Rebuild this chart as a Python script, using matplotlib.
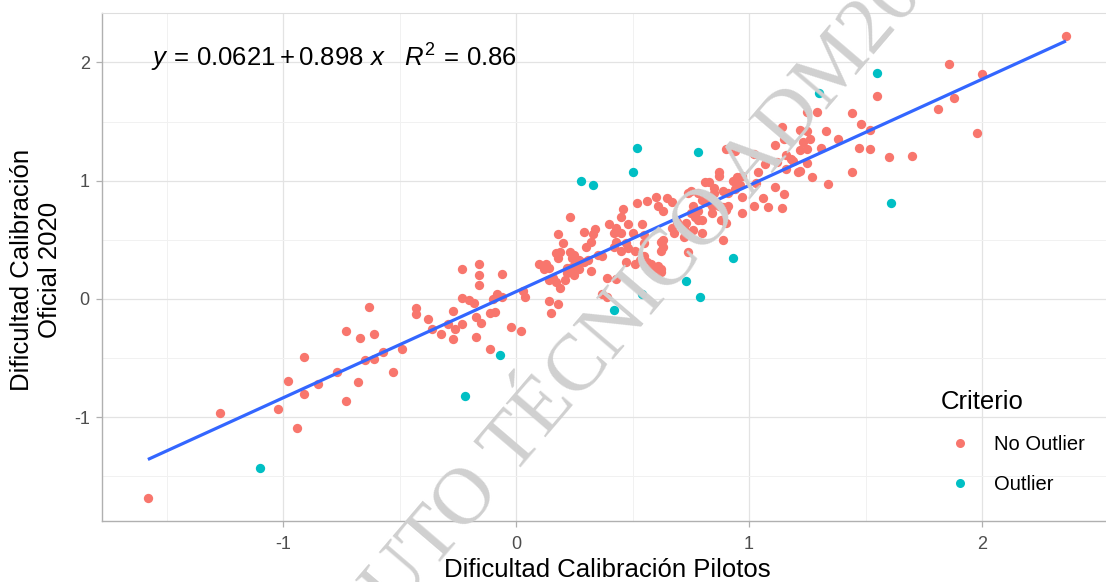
import matplotlib
matplotlib.use('Agg')
import matplotlib.pyplot as plt
from matplotlib.lines import Line2D
from matplotlib.ticker import FixedLocator

plt.rcParams['font.family'] = ['Liberation Sans', 'DejaVu Sans']
plt.rcParams['axes.unicode_minus'] = False
plt.rcParams['mathtext.fontset'] = 'custom'
plt.rcParams['mathtext.rm'] = 'Liberation Sans'
plt.rcParams['mathtext.it'] = 'Liberation Sans:italic'

# datos: No Outlier (tres zonas) y Outlier
x_low = [-1.58, -1.27, -1.02, -0.94, -0.98, -0.91, -0.91, -0.85, -0.77, -0.73,
         -0.68, -0.73, -0.67, -0.63, -0.61, -0.65, -0.61, -0.57, -0.53, -0.49,
         -0.43, -0.43, -0.38, -0.36, -0.32, -0.27, -0.29, -0.26, -0.23, -0.27,
         -0.23, -0.20, -0.18, -0.16, -0.17, -0.15, -0.17, -0.11, -0.11, -0.09,
         -0.10, -0.08, -0.06, -0.23, -0.16, -0.16, -0.06, -0.02, 0.02, 0.03, 0.04]
y_low = [-1.68, -0.96, -0.93, -1.09, -0.69, -0.80, -0.49, -0.72, -0.62, -0.86,
         -0.70, -0.27, -0.33, -0.07, -0.30, -0.52, -0.51, -0.45, -0.62, -0.42,
         -0.08, -0.13, -0.17, -0.25, -0.30, -0.34, -0.21, -0.25, -0.21, -0.10,
         0.01, -0.01, -0.03, 0.12, -0.15, -0.20, -0.32, -0.42, -0.12, -0.11,
         0.00, 0.04, 0.02, 0.25, 0.30, 0.20, 0.21, -0.24, -0.27, 0.07, 0.02]

x_mid = [0.14, 0.18, 0.15, 0.10, 0.13, 0.14, 0.12, 0.16, 0.14, 0.17,
         0.19, 0.21, 0.23, 0.18, 0.20, 0.29, 0.34, 0.33, 0.32, 0.30,
         0.19, 0.18, 0.23, 0.24, 0.25, 0.27, 0.29, 0.26, 0.24, 0.22,
         0.17, 0.22, 0.31, 0.32, 0.27, 0.25, 0.39, 0.43, 0.37, 0.39,
         0.35, 0.37, 0.40, 0.43, 0.42, 0.45, 0.47, 0.45, 0.46, 0.48,
         0.50, 0.54, 0.43, 0.42, 0.45, 0.48, 0.51, 0.47, 0.51, 0.53,
         0.55, 0.56, 0.58, 0.61, 0.62, 0.59, 0.57, 0.55, 0.55, 0.62,
         0.63, 0.62, 0.52, 0.56, 0.60, 0.61, 0.63, 0.65, 0.67, 0.69,
         0.67, 0.72, 0.68, 0.72, 0.76, 0.74, 0.74, 0.78, 0.76, 0.78,
         0.78, 0.62]
y_mid = [-0.02, -0.04, -0.12, 0.30, 0.30, 0.26, 0.25, 0.18, 0.16, 0.14,
         0.09, 0.16, 0.69, 0.55, 0.47, 0.57, 0.59, 0.55, 0.48, 0.44,
         0.40, 0.35, 0.40, 0.35, 0.37, 0.33, 0.31, 0.29, 0.27, 0.26,
         0.39, 0.22, 0.33, 0.24, 0.25, 0.20, 0.18, 0.17, 0.04, 0.02,
         0.37, 0.36, 0.63, 0.60, 0.56, 0.56, 0.47, 0.69, 0.76, 0.63,
         0.56, 0.63, 0.48, 0.44, 0.41, 0.43, 0.41, 0.31, 0.30, 0.33,
         0.36, 0.31, 0.30, 0.28, 0.25, 0.25, 0.27, 0.54, 0.47, 0.48,
         0.44, 0.41, 0.81, 0.83, 0.86, 0.79, 0.74, 0.85, 0.82, 0.65,
         0.60, 0.60, 0.56, 0.52, 0.58, 0.40, 0.90, 0.90, 0.79, 0.74,
         0.67, 0.23]

x_high = [2.36, 1.86, 2.00, 1.55, 1.88, 1.81, 1.25, 1.29, 1.44, 1.48,
          1.52, 1.98, 1.47, 1.52, 1.60, 1.70, 1.44, 1.34, 1.14, 1.22,
          1.25, 1.33, 1.15, 1.23, 1.26, 1.38, 1.11, 1.31, 1.22, 1.25,
          0.90, 0.94, 1.02, 1.16, 1.18, 1.19, 1.12, 1.07, 1.25, 1.04,
          1.16, 1.21, 1.22, 1.27, 0.87, 0.87, 0.81, 0.83, 0.93, 0.95,
          0.97, 0.96, 1.03, 0.75, 0.85, 0.85, 0.83, 0.89, 0.91, 0.94,
          0.97, 1.11, 1.15, 1.06, 1.08, 1.14, 1.02, 0.97, 0.80, 0.82,
          0.84, 0.87, 0.89, 0.91, 0.90, 0.75, 0.77, 0.80, 0.84, 0.88,
          0.90, 0.89, 0.73, 0.63, 0.80]
y_high = [2.22, 1.99, 1.90, 1.72, 1.70, 1.61, 1.58, 1.58, 1.57, 1.48,
          1.43, 1.40, 1.28, 1.27, 1.20, 1.21, 1.07, 0.97, 1.45, 1.43,
          1.42, 1.42, 1.35, 1.33, 1.35, 1.35, 1.30, 1.28, 1.26, 1.27,
          1.27, 1.25, 1.23, 1.22, 1.18, 1.17, 1.16, 1.14, 1.15, 1.07,
          1.10, 1.07, 1.08, 1.03, 1.07, 1.04, 0.99, 0.99, 1.00, 1.03,
          1.04, 0.96, 0.98, 0.91, 0.94, 0.90, 0.86, 0.91, 0.90, 0.93,
          0.86, 0.95, 0.89, 0.85, 0.78, 0.77, 0.79, 0.73, 0.84, 0.82,
          0.79, 0.79, 0.78, 0.79, 0.75, 0.73, 0.69, 0.67, 0.73, 0.67,
          0.64, 0.50, 0.64, 0.50, 0.56]

x_outlier = [-1.10, -0.22, -0.07, 0.42, 0.54, 0.73, 0.79, 0.93,
             0.28, 0.33, 0.50, 0.52, 0.78, 1.30, 1.55, 1.61]
y_outlier = [-1.43, -0.82, -0.47, -0.09, 0.04, 0.15, 0.02, 0.35,
             1.00, 0.96, 1.07, 1.28, 1.24, 1.74, 1.91, 0.81]

intercept, slope = 0.0621, 0.898
eq_label = r'$y\,=\,0.0621 + 0.898\ x\quad R^2\,=\,0.86$'
legend_labels = ['No Outlier', 'Outlier']
col_no, col_out = '#F8766D', '#00BFC4'

x_no = x_low + x_mid + x_high
y_no = y_low + y_mid + y_high

fig = plt.figure(figsize=(11.06, 5.82), dpi=100)
ax = fig.add_axes([102 / 1106, 61 / 582, 1011 / 1106, 508 / 582])

ax.set_xlim(-1.777, 2.562)
ax.set_ylim(-1.877, 2.418)

# rejilla estilo ggplot minimal
ax.xaxis.set_major_locator(FixedLocator([-1, 0, 1, 2]))
ax.yaxis.set_major_locator(FixedLocator([-1, 0, 1, 2]))
ax.xaxis.set_minor_locator(FixedLocator([-1.5, -0.5, 0.5, 1.5]))
ax.yaxis.set_minor_locator(FixedLocator([-1.5, -0.5, 0.5, 1.5]))
ax.grid(True, which='major', color='#e3e3e3', linewidth=0.9)
ax.grid(True, which='minor', color='#f1f1f1', linewidth=0.7)
ax.set_axisbelow(True)

for side in ['left', 'bottom']:
    ax.spines[side].set_color('#b0b0b0')
    ax.spines[side].set_linewidth(1.0)
for side in ['top', 'right']:
    ax.spines[side].set_color('#dedede')
    ax.spines[side].set_linewidth(0.8)
ax.tick_params(which='major', length=4.3, width=0.9, color='#b0b0b0',
               labelcolor='#4d4d4d', labelsize=13)
ax.tick_params(axis='x', which='major', pad=6.5)
ax.tick_params(axis='y', which='major', pad=4.5)
ax.tick_params(which='minor', length=0)

ax.scatter(x_no, y_no, s=45, color=col_no, linewidths=0, zorder=3)
ax.scatter(x_outlier, y_outlier, s=45, color=col_out, linewidths=0, zorder=3)

x_all = x_no + x_outlier
x0, x1 = min(x_all), max(x_all)
ax.plot([x0, x1], [intercept + slope * x0, intercept + slope * x1],
        color='#3366FF', linewidth=2.3, zorder=4, solid_capstyle='butt')

ax.text(-1.565, 2.04, eq_label, fontsize=18.5, ha='left', va='center', zorder=5)

handles = [Line2D([], [], marker='o', linestyle='', markersize=6.5,
                  markerfacecolor=c, markeredgewidth=0) for c in (col_no, col_out)]
leg = ax.legend(handles, legend_labels, title='Criterio', loc='upper left',
                bbox_to_anchor=(931 / 1106, 1 - 380 / 582), bbox_transform=fig.transFigure,
                frameon=False, fontsize=14.5, title_fontsize=18.5, borderpad=0,
                handlelength=1.9, handletextpad=0.75, labelspacing=1.05,
                alignment='left')

fig.text(607 / 1106, 1 - 570 / 582, 'Dificultad Calibración Pilotos',
         fontsize=18.5, ha='center', va='center')
fig.text(36 / 1106, 1 - 270 / 582, 'Dificultad Calibración\nOficial 2020',
         fontsize=18.5, ha='center', va='center', rotation=90, multialignment='center')

# marca de agua
fig.text(603 / 1106, 1 - 372 / 582, 'INSTITUTO TÉCNICO ADM2020', rotation=49.5,
         rotation_mode='anchor', ha='center', va='baseline', fontsize=58,
         family='Liberation Serif', color='#d0d0d0', zorder=10)

fig.savefig('out.png', dpi=100)
